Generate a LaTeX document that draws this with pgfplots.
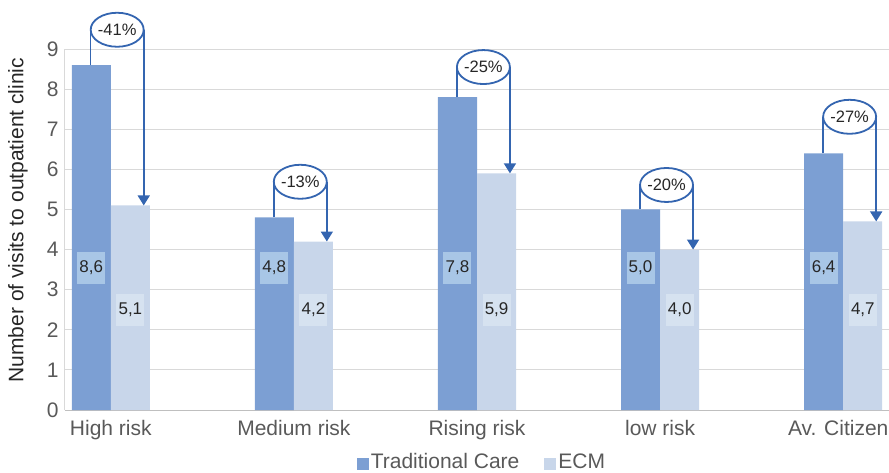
\documentclass[border=0pt]{standalone}
\usepackage{fontspec}
\setmainfont{Liberation Sans}
\usepackage{pgfplots}
\pgfplotsset{compat=1.18}
\usetikzlibrary{arrows.meta}

\definecolor{tradblue}{HTML}{7C9FD3}
\definecolor{ecmblue}{HTML}{C8D6EA}
\definecolor{tradlabel}{HTML}{A8C6E6}
\definecolor{ecmlabel}{HTML}{D6E2F0}
\definecolor{arrowblue}{HTML}{3465B0}
\definecolor{gridgray}{HTML}{D9D9D9}
\definecolor{axisgray}{HTML}{BFBFBF}
\definecolor{ticktext}{HTML}{595959}
\definecolor{labeltext}{HTML}{262626}

% change annotation: group, traditional value, ECM value, height of the ellipse, text
\newcommand{\dropnote}[5]{%
  \draw[arrowblue, line width=1.6bp] (axis cs:#1-0.11,#2) -- (axis cs:#1-0.11,#4);
  \draw[arrowblue, line width=1.6bp, -{Triangle[width=12bp,length=10bp]}]
    (axis cs:#1+0.18,#4) -- (axis cs:#1+0.18,#3);
  \draw[arrowblue, line width=1.8bp, fill=white]
    (axis cs:#1+0.035,#4) ellipse [x radius=26.5bp, y radius=17bp];
  \node[font=\fontsize{16.5bp}{19bp}\selectfont, text=labeltext]
    at (axis cs:#1+0.035,#4) {#5};
}
% value boxes inside the bars
\newcommand{\valbox}[4]{%
  \node[fill=#4, minimum width=28bp, minimum height=32bp, inner sep=0pt,
        font=\fontsize{17bp}{20bp}\selectfont, text=labeltext]
    at (axis cs:#1,#2) {#3};
}

\begin{document}
\begin{tikzpicture}
\useasboundingbox (-65bp,-63bp) rectangle (824bp,410bp);
\begin{axis}[
  scale only axis, width=824bp, height=361bp,
  xmin=-0.25, xmax=4.25, ymin=0, ymax=9,
  clip=false,
  axis x line*=bottom, axis y line*=left,
  x axis line style={draw=axisgray, line width=1bp},
  y axis line style={draw=gridgray, line width=1bp},
  ymajorgrids, grid style={draw=gridgray, line width=1bp},
  major tick length=0pt,
  xtick={0,1,2,3,4},
  xticklabels={High risk, Medium risk, Rising risk, low risk, Av. Citizen\rule{10bp}{0pt}},
  ytick={0,1,...,9},
  tick label style={font=\fontsize{21bp}{25bp}\selectfont, text=ticktext},
  /pgf/number format/assume math mode=true,
  yticklabel style={xshift=-3bp},
  xticklabel style={yshift=-7bp},
  ylabel={Number of visits to outpatient clinic},
  ylabel style={at={(rel axis cs:-0.057,0.526)}, anchor=center,
                font=\fontsize{21bp}{25bp}\selectfont, text=labeltext},
  legend style={at={(0.506,-0.143)}, anchor=center, draw=none, fill=none,
                font=\fontsize{21bp}{25bp}\selectfont, text=ticktext,
                /tikz/every even column/.append style={column sep=23bp}},
  legend columns=-1,
]
\addplot[ybar, bar width=0.213, bar shift=-0.1065, fill=tradblue, draw=none,
  legend image code/.code={\fill[tradblue] (0bp,-8bp) rectangle (12bp,4bp);}]
  coordinates {(0,8.6) (1,4.8) (2,7.8) (3,5.0) (4,6.4)};
\addlegendentry{Traditional Care}
\addplot[ybar, bar width=0.213, bar shift=0.1065, fill=ecmblue, draw=none,
  legend image code/.code={\fill[ecmblue] (0bp,-8bp) rectangle (12bp,4bp);}]
  coordinates {(0,5.1) (1,4.2) (2,5.9) (3,4.0) (4,4.7)};
\addlegendentry{ECM}

\valbox{-0.107}{3.55}{8,6}{tradlabel}
\valbox{0.107}{2.5}{5,1}{ecmlabel}
\valbox{0.893}{3.55}{4,8}{tradlabel}
\valbox{1.107}{2.5}{4,2}{ecmlabel}
\valbox{1.893}{3.55}{7,8}{tradlabel}
\valbox{2.107}{2.5}{5,9}{ecmlabel}
\valbox{2.893}{3.55}{5,0}{tradlabel}
\valbox{3.107}{2.5}{4,0}{ecmlabel}
\valbox{3.893}{3.55}{6,4}{tradlabel}
\valbox{4.107}{2.5}{4,7}{ecmlabel}

\dropnote{0}{8.6}{5.1}{9.48}{-41\%}
\dropnote{1}{4.8}{4.2}{5.69}{-13\%}
\dropnote{2}{7.8}{5.9}{8.55}{-25\%}
\dropnote{3}{5.0}{4.0}{5.61}{-20\%}
\dropnote{4}{6.4}{4.7}{7.31}{-27\%}
\end{axis}
\end{tikzpicture}
\end{document}
